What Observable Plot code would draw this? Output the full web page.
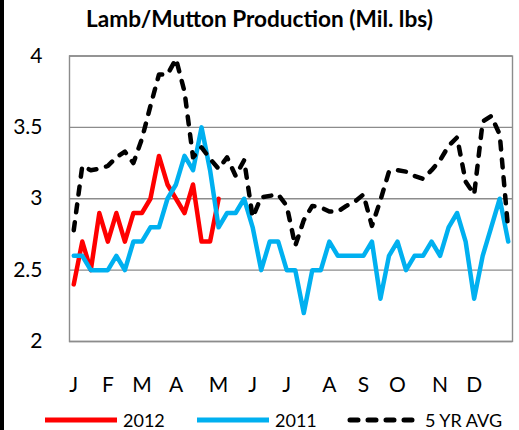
<!DOCTYPE html>
<html>
<head>
<meta charset="utf-8">
<script src="https://cdn.jsdelivr.net/npm/d3@7"></script>
<script src="https://cdn.jsdelivr.net/npm/@observablehq/plot@0.6"></script>
<style>
  body { margin: 0; background: #fff; font-family: Lato, "Liberation Sans", sans-serif; }
  #wrap { position: relative; width: 519px; height: 430px; overflow: hidden; background: #fff; }
  #edge { position: absolute; left: 0; top: 0; width: 4px; height: 430px; background: #000; }
  #title { position: absolute; top: 5px; left: 0; width: 519px; text-align: center; font-weight: bold; font-size: 22.6px; color: #000; }
  #chart { position: absolute; top: 40px; left: 0; }
  .leg { position: absolute; top: 407px; height: 26px; display: flex; align-items: center; font-size: 18px; color: #000; white-space: nowrap; }
  .leg svg { margin-right: 6px; }
</style>
</head>
<body>
<div id="wrap">
  <div id="edge"></div>
  <div id="title">Lamb/Mutton Production (Mil. lbs)</div>
  <div id="chart"></div>
  <div id="legend"></div>
</div>
<script>
// Week categories (1..52)
const weeks = [1,2,3,4,5,6,7,8,9,10,11,12,13,14,15,16,17,18,19,20,21,22,23,24,25,26,
               27,28,29,30,31,32,33,34,35,36,37,38,39,40,41,42,43,44,45,46,47,48,49,50,51,52];

// Month labels and the weeks where they sit
const monthWeeks  = [1, 5, 9, 13, 18, 22, 26, 31, 35, 39, 44, 48];
const monthLabels = ["J","F","M","A","M","J","J","A","S","O","N","D"];

// Y ticks
const yTicks = [2, 2.5, 3, 3.5, 4];
const yTickLabels = ["2", "2.5", "3", "3.5", "4"];

// Series values (Mil. lbs)
const values2012 = [2.4,2.7,2.5,2.9,2.7,2.9,2.7,2.9,2.9,3.0,3.3,3.1,3.0,2.9,3.1,2.7,2.7,3.0];

const values2011 = [2.6,2.6,2.5,2.5,2.5,2.6,2.5,2.7,2.7,2.8,2.8,3.0,3.1,3.3,3.2,3.5,3.2,2.8,2.9,2.9,
                    3.0,2.8,2.5,2.7,2.7,2.5,2.5,2.2,2.5,2.5,2.7,2.6,2.6,2.6,2.6,2.7,2.3,2.6,2.7,2.5,
                    2.6,2.6,2.7,2.6,2.8,2.9,2.7,2.3,2.6,2.8,3.0,2.7];

const values5yr = [2.78,3.23,3.20,3.21,3.23,3.29,3.33,3.25,3.42,3.65,3.87,3.87,3.98,3.75,3.29,3.36,
                   3.28,3.21,3.29,3.16,3.27,2.87,3.01,3.02,3.03,2.95,2.67,2.85,2.95,2.94,2.91,2.91,
                   2.95,2.98,3.03,2.81,2.99,3.19,3.20,3.19,3.16,3.14,3.20,3.27,3.37,3.43,3.12,3.03,
                   3.54,3.58,3.45,2.78];

const seriesNames  = ["2012", "2011", "5 YR AVG"];
const seriesColors = ["#FF0000", "#00B0F0", "#000000"];

const rows = (vals, name) => vals.map((v, i) => ({week: weeks[i], value: v, series: name}));
const d2012 = rows(values2012, seriesNames[0]);
const d2011 = rows(values2011, seriesNames[1]);
const d5yr  = rows(values5yr,  seriesNames[2]);

const gridColor = "#8c8c8c";

const chart = Plot.plot({
  width: 519,
  height: 355,
  marginTop: 15.5,
  marginBottom: 54,
  marginLeft: 69,
  marginRight: 7,
  style: { fontFamily: "Lato, 'Liberation Sans', sans-serif", fontSize: "21px", color: "#000", background: "transparent", overflow: "visible" },
  x: { type: "point", domain: weeks, padding: 0.5, round: false, axis: null },
  y: { domain: [2, 4], axis: null },
  marks: [
    Plot.ruleY(yTicks, { stroke: gridColor, strokeWidth: 1.4 }),
    Plot.frame({ stroke: gridColor, strokeWidth: 1.4 }),
    Plot.axisY({ ticks: yTicks, tickSize: 0, tickPadding: 27, fontSize: 21, label: null,
                 tickFormat: d => yTickLabels[yTicks.indexOf(d)] }),
    Plot.axisX({ ticks: monthWeeks, tickSize: 0, tickPadding: 36, fontSize: 21, label: null,
                 tickFormat: d => monthLabels[monthWeeks.indexOf(d)] }),
    Plot.line(d2012, { x: "week", y: "value", stroke: seriesColors[0], strokeWidth: 4.5, strokeLinejoin: "round" }),
    Plot.line(d2011, { x: "week", y: "value", stroke: seriesColors[1], strokeWidth: 4.5, strokeLinejoin: "round" }),
    Plot.line(d5yr,  { x: "week", y: "value", stroke: seriesColors[2], strokeWidth: 4.5, strokeLinejoin: "round",
                       strokeLinecap: "round", strokeDasharray: "8,10" })
  ]
});
document.getElementById("chart").appendChild(chart);

// Legend
const legendX = [45, 197, 347];
const legend = document.getElementById("legend");
seriesNames.forEach((name, i) => {
  const item = document.createElement("div");
  item.className = "leg";
  item.style.left = legendX[i] + "px";
  const dash = i === 2 ? ' stroke-dasharray="8,10" stroke-linecap="round"' : '';
  const x1 = i === 2 ? 3 : 0, x2 = i === 2 ? 69 : 72;
  item.innerHTML = `<svg width="72" height="8"><line x1="${x1}" y1="4" x2="${x2}" y2="4" stroke="${seriesColors[i]}" stroke-width="5"${dash}/></svg><span>${name}</span>`;
  legend.appendChild(item);
});
</script>
</body>
</html>
